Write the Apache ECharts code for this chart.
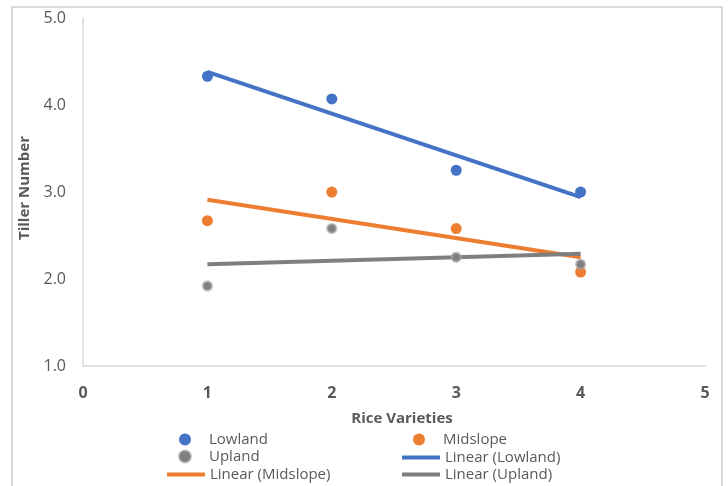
<!DOCTYPE html>
<html>
<head>
<meta charset="utf-8">
<script src="https://cdn.jsdelivr.net/npm/echarts@6/dist/echarts.min.js"></script>
<style>
html,body{margin:0;padding:0;background:#fff;}
#c{width:728px;height:486px;}
</style>
</head>
<body>
<div id="c"></div>
<script>
// Data
const varieties = [1, 2, 3, 4];
const lowland = [4.33, 4.07, 3.25, 3.00];
const midslope = [2.67, 3.00, 2.58, 2.08];
const upland = [1.92, 2.58, 2.25, 2.17];
// Trend line end points (linear fits as shown), at x = 1 and x = 4
const trendX = [1, 4];
const trendLowland = [4.38, 2.94];
const trendMidslope = [2.91, 2.25];
const trendUpland = [2.17, 2.29];
const xTicks = [0, 1, 2, 3, 4, 5];
const yTicks = [1.0, 2.0, 3.0, 4.0, 5.0];

const BLUE = '#4472C4', ORANGE = '#ED7D31', GREY = '#7F7F7F';
const FONT = '"Open Sans", "Noto Sans", sans-serif';

const pts = (xs, ys) => xs.map((x, i) => [x, ys[i]]);
const legText = {fontSize: 15, color: '#595959', lineHeight: 12, fontFamily: FONT};
const legBase = {orient: 'vertical', itemGap: 2, height: 120, padding: 0, textStyle: legText};

const chart = echarts.init(document.getElementById('c'), null, {renderer: 'canvas'});
chart.setOption({
  backgroundColor: '#fff',
  animation: false,
  textStyle: {fontFamily: FONT},
  graphic: [{
    type: 'rect',
    shape: {x: 12, y: 7, width: 710, height: 500},
    style: {fill: 'none', stroke: '#D9D9D9', lineWidth: 2},
    silent: true, z: -1
  }],
  grid: {left: 83, right: 23, top: 18, bottom: 120},
  xAxis: {
    type: 'value', min: xTicks[0], max: xTicks[xTicks.length - 1], interval: 1,
    name: 'Rice Varieties', nameLocation: 'middle', nameGap: 45,
    nameTextStyle: {fontSize: 15, fontWeight: 'bold', color: '#595959', fontFamily: FONT,
      padding: [0, 0, 0, 16]},
    axisLine: {show: true, onZero: false, lineStyle: {color: '#D9D9D9', width: 1.5}},
    axisTick: {show: false},
    splitLine: {show: false},
    axisLabel: {fontSize: 16, fontWeight: 'bold', color: '#595959', margin: 19, fontFamily: FONT}
  },
  yAxis: {
    type: 'value', min: yTicks[0], max: yTicks[yTicks.length - 1], interval: 1,
    name: 'Tiller Number', nameLocation: 'middle', nameGap: 41,
    nameTextStyle: {fontSize: 15, fontWeight: 'bold', color: '#595959', fontFamily: FONT,
      padding: [0, 0, 0, 8]},
    axisLine: {show: true, lineStyle: {color: '#D9D9D9', width: 1.5}},
    axisTick: {show: false},
    splitLine: {show: false},
    axisLabel: {fontSize: 16, color: '#595959', margin: 17, fontFamily: FONT,
      formatter: v => v.toFixed(1)}
  },
  legend: [
    Object.assign({}, legBase, {left: 178, top: 432, itemWidth: 38, itemHeight: 12,
      data: [{name: 'Lowland', icon: 'circle'}, {name: 'Upland', icon: 'circle'}]}),
    Object.assign({}, legBase, {left: 413, top: 432, itemWidth: 38, itemHeight: 12,
      data: [{name: 'Midslope', icon: 'circle'}]}),
    Object.assign({}, legBase, {left: 167, top: 467, itemWidth: 38, itemHeight: 4,
      data: [{name: 'Linear (Midslope)', icon: 'rect'}]}),
    Object.assign({}, legBase, {left: 402, top: 450, itemWidth: 38, itemHeight: 4,
      data: [{name: 'Linear (Lowland)', icon: 'rect'}, {name: 'Linear (Upland)', icon: 'rect'}]})
  ],
  series: [
    {name: 'Linear (Lowland)', type: 'line', data: pts(trendX, trendLowland),
     symbol: 'none', lineStyle: {color: BLUE, width: 4}, itemStyle: {color: BLUE}, z: 2},
    {name: 'Linear (Midslope)', type: 'line', data: pts(trendX, trendMidslope),
     symbol: 'none', lineStyle: {color: ORANGE, width: 4}, itemStyle: {color: ORANGE}, z: 2},
    {name: 'Linear (Upland)', type: 'line', data: pts(trendX, trendUpland),
     symbol: 'none', lineStyle: {color: GREY, width: 4}, itemStyle: {color: GREY}, z: 2},
    {name: 'Lowland', type: 'scatter', data: pts(varieties, lowland), symbolSize: 11,
     itemStyle: {color: BLUE, opacity: 1}, z: 3},
    {name: 'Midslope', type: 'scatter', data: pts(varieties, midslope), symbolSize: 11,
     itemStyle: {color: ORANGE, opacity: 1}, z: 3},
    {name: 'Upland', type: 'scatter', data: pts(varieties, upland), symbolSize: 9,
     itemStyle: {color: GREY, borderColor: 'rgba(170,170,170,0.6)', borderWidth: 2.5, opacity: 1}, z: 3}
  ]
});
</script>
</body>
</html>
